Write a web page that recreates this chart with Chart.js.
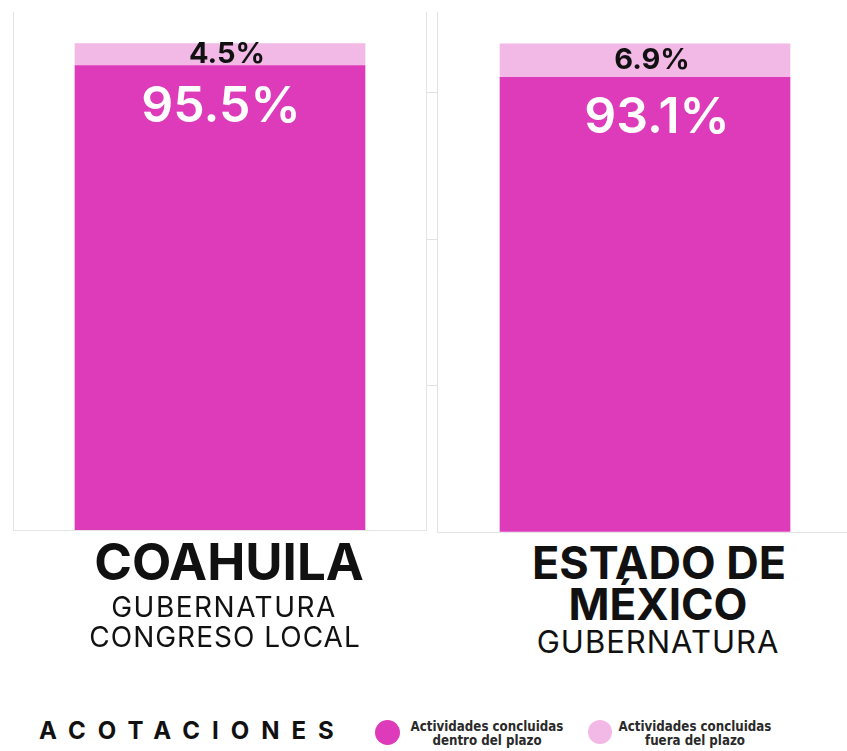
<!DOCTYPE html>
<html>
<head>
<meta charset="utf-8">
<script src="https://cdn.jsdelivr.net/npm/chart.js@4"></script>
<style>
    body { margin: 0; width: 847px; height: 751px; overflow: hidden; position: relative; background: #fff; font-family: Inter, sans-serif; color: #111; }
    .panel { position: absolute; top: 12px; }
    #panelA { left: 13px; width: 412px; height: 518px; border-left: 1px solid #e4e4e4; border-right: 1px solid #e4e4e4; border-bottom: 1px solid #e4e4e4; }
    #panelB { left: 437px; width: 420px; height: 520px; border-bottom: 1px solid #e4e4e4; }
    #panelB canvas { position: absolute; left: -10px; top: 0; }
    .rotulo { position: absolute; width: 420px; text-align: center; white-space: nowrap; line-height: 1; }
    .estado { font-weight: 700; }
    .eleccion { font-weight: 400; }
    #acotaciones { position: absolute; left: 39px; top: 719px; font-size: 24px; font-weight: 700; letter-spacing: 12px; line-height: 24px; }
    .punto { position: absolute; border-radius: 50%; }
    .leyenda { position: absolute; width: 200px; text-align: center; font-family: "DejaVu Sans Condensed", "DejaVu Sans", sans-serif; font-stretch: condensed; font-weight: 700; font-size: 13.2px; line-height: 14px; color: #2a2a2a; }
</style>
</head>
<body>
<div id="panelA" class="panel"><canvas id="chartA" width="412" height="518"></canvas></div>
<div id="panelB" class="panel"><canvas id="chartB" width="426" height="520"></canvas></div>

<div class="rotulo estado" style="left:19px; top:536px; font-size:51px;">COAHUILA</div>
<div class="rotulo eleccion" style="left:14px; top:593px; font-size:28px; letter-spacing:1.5px;">GUBERNATURA</div>
<div class="rotulo eleccion" style="left:15px; top:623px; font-size:28px; letter-spacing:1px;">CONGRESO LOCAL</div>

<div class="rotulo estado" style="left:449px; top:540px; font-size:45px;">ESTADO DE</div>
<div class="rotulo estado" style="left:448px; top:582px; font-size:44px;">MÉXICO</div>
<div class="rotulo eleccion" style="left:448px; top:626px; font-size:31px; letter-spacing:1px;">GUBERNATURA</div>

<div id="acotaciones">ACOTACIONES</div>
<div class="punto" style="left:375px; top:720px; width:25px; height:25px; background:#DD3BB9;"></div>
<div class="leyenda" style="left:387px; top:720px;">Actividades concluidas<br>dentro del plazo</div>
<div class="punto" style="left:588px; top:720px; width:24px; height:24px; background:#F2B8E6;"></div>
<div class="leyenda" style="left:595px; top:720px;">Actividades concluidas<br>fuera del plazo</div>

<script>
// datos
const regiones = ['COAHUILA', 'ESTADO DE MÉXICO'];
const dentroPlazo = [95.5, 93.1];
const fueraPlazo = [4.5, 6.9];
const series = ['Actividades concluidas dentro del plazo', 'Actividades concluidas fuera del plazo'];
const colores = ['#DD3BB9', '#F2B8E6'];
const yMax = 106.5;

// porcentajes encima de cada tramo
const etiquetas = {
    id: 'etiquetas',
    afterDatasetsDraw(chart, args, opts) {
        const ctx = chart.ctx;
        const dentro = chart.getDatasetMeta(0).data[0];
        const fuera = chart.getDatasetMeta(1).data[0];
        const v0 = chart.data.datasets[0].data[0];
        const v1 = chart.data.datasets[1].data[0];
        ctx.save();
        ctx.textAlign = 'center';
        ctx.textBaseline = 'middle';
        ctx.fillStyle = '#ffffff';
        ctx.font = '600 50px Inter';
        ctx.fillText(v0.toFixed(1) + '%', dentro.x + opts.dx, dentro.y + 41);
        ctx.fillStyle = '#111111';
        ctx.font = '700 29px Inter';
        ctx.fillText(v1.toFixed(1) + '%', fuera.x + 7, (fuera.y + fuera.base) / 2);
        ctx.restore();
    }
};

function makeChart(id, i, conMarcas, dx) {
    return new Chart(document.getElementById(id), {
        type: 'bar',
        data: {
            labels: [regiones[i]],
            datasets: [
                { label: series[0], data: [dentroPlazo[i]], backgroundColor: colores[0], barThickness: 290 },
                { label: series[1], data: [fueraPlazo[i]], backgroundColor: colores[1], barThickness: 290 }
            ]
        },
        options: {
            responsive: false,
            animation: false,
            devicePixelRatio: 1,
            layout: { padding: 0 },
            plugins: { legend: { display: false }, tooltip: { enabled: false }, etiquetas: { dx: dx } },
            scales: {
                x: { stacked: true, display: false },
                y: {
                    stacked: true,
                    min: 0,
                    max: yMax,
                    display: conMarcas,
                    afterBuildTicks: axis => { axis.ticks = axis.ticks.filter(t => t.value % 30 === 0); },
                    ticks: { display: false, stepSize: 30 },
                    grid: { drawOnChartArea: false, drawTicks: true, tickLength: 10, color: '#e2e2e2' },
                    border: { display: true, color: '#e2e2e2' }
                }
            }
        },
        plugins: [etiquetas]
    });
}

makeChart('chartA', 0, false, 1);
makeChart('chartB', 1, true, 12);
</script>
</body>
</html>
